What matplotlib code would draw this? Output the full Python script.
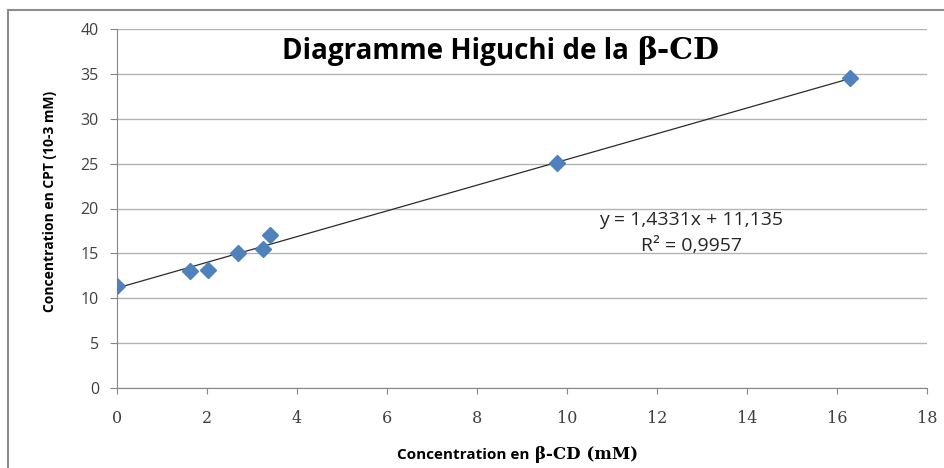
import matplotlib.pyplot as plt
from matplotlib.lines import Line2D
import numpy as np

# beta-CD concentration (mM) vs CPT concentration (10-3 mM)
conc_cd = [0.0, 1.62, 2.03, 2.70, 3.25, 3.40, 9.78, 16.30]
conc_cpt = [11.4, 13.0, 13.2, 15.0, 15.5, 17.0, 25.1, 34.5]

slope = 1.4331
intercept = 11.135
r2 = 0.9957

x_ticks = list(range(0, 20, 2))
y_ticks = list(range(0, 45, 5))

W, H = 945, 468


def px(x, y):
    # pixel position (from top-left) -> figure fraction
    return x / W, 1 - y / H


def plot_higuchi():
    fig = plt.figure(figsize=(W / 100, H / 100), dpi=100)
    ax = fig.add_axes([117 / W, 1 - 388 / H, 810 / W, 359 / H])

    grey = '#868686'
    ax.set_xlim(0, 18)
    ax.set_ylim(0, 40)
    ax.set_xticks(x_ticks)
    ax.set_yticks(y_ticks)
    ax.yaxis.grid(True, color='#b3b3b3', linewidth=1)
    ax.set_axisbelow(True)
    for side in ('top', 'right'):
        ax.spines[side].set_visible(False)
    for side in ('left', 'bottom'):
        ax.spines[side].set_color(grey)
    ax.tick_params(axis='both', direction='out', color=grey, labelcolor='#404040')
    ax.tick_params(axis='y', length=5, pad=8)
    ax.tick_params(axis='x', length=4.5, pad=11)
    for lab in ax.get_yticklabels():
        lab.set_fontfamily('Open Sans')
        lab.set_fontsize(11.5)
    for lab in ax.get_xticklabels():
        lab.set_fontfamily('DejaVu Serif')
        lab.set_fontsize(11.5)

    # linear trend line over the data range
    xf = np.array([min(conc_cd), max(conc_cd)])
    ax.plot(xf, slope * xf + intercept, color='#2a2a2a', linewidth=0.9, zorder=2)
    ax.plot(conc_cd, conc_cpt, 'D', color='#4f81bd', markersize=8.5, zorder=3)

    fmt = lambda v: f'{v}'.replace('.', ',')
    fig.text(*px(691, 225), f'y = {fmt(slope)}x + {fmt(intercept)}',
             fontsize=14, family='Open Sans', color='#262626', ha='center', va='baseline')
    fig.text(*px(692, 251), f'R² = {fmt(r2)}',
             fontsize=14, family='Open Sans', color='#262626', ha='center', va='baseline')

    # title: sans part + serif beta-CD
    fig.text(*px(629, 59), 'Diagramme Higuchi de la', family='Open Sans',
             fontweight='bold', fontsize=20, ha='right', va='baseline')
    fig.text(*px(637, 59), 'β-CD', family='DejaVu Serif',
             fontweight='bold', fontsize=21.5, ha='left', va='baseline')

    # axis labels
    fig.text(*px(50, 201), 'Concentration en CPT (10-3 mM)', family='Open Sans',
             fontweight='bold', fontsize=10, rotation=90, ha='center', va='center')
    fig.text(*px(530, 459), 'Concentration en', family='Open Sans',
             fontweight='bold', fontsize=11, ha='right', va='baseline')
    fig.text(*px(535, 459), 'β-CD (mM)', family='DejaVu Serif',
             fontweight='bold', fontsize=12, ha='left', va='baseline')

    # chart area border (left and top)
    fig.add_artist(Line2D([8 / W, 8 / W], [0, 1 - 10 / H], color='#8c8c8c', linewidth=1.5))
    fig.add_artist(Line2D([8 / W, 1], [1 - 10 / H, 1 - 10 / H], color='#8c8c8c', linewidth=1.5))

    fig.savefig('out.png', dpi=100)


if __name__ == '__main__':
    plot_higuchi()
